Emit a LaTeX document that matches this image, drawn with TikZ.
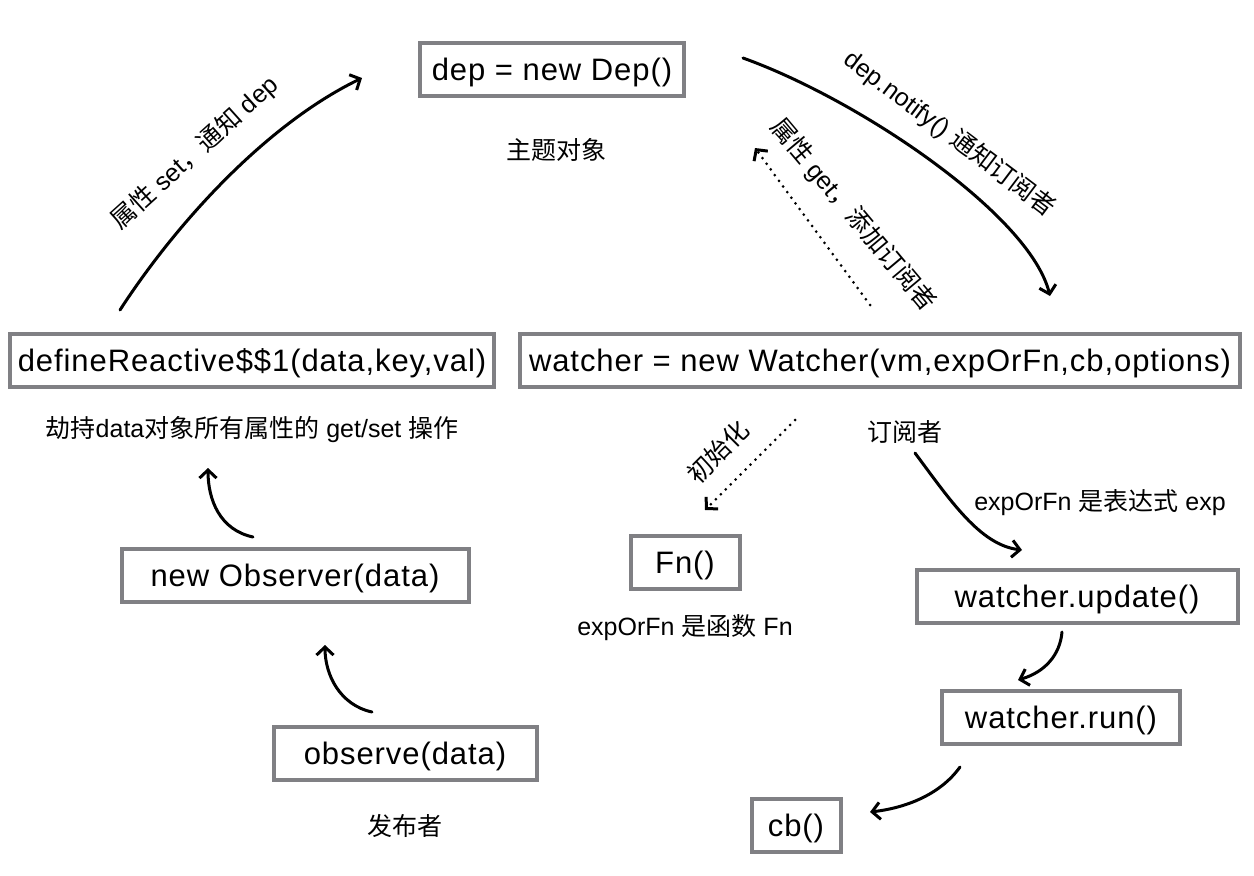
\documentclass[tikz,border=0pt]{standalone}
\usepackage{fontspec}
\setmainfont{Liberation Sans}
\newfontfamily\boxfont{Liberation Sans}[LetterSpace=3]
\newfontfamily\cjk{Noto Sans CJK SC}
\usetikzlibrary{arrows.meta}

\definecolor{boxgray}{RGB}{128,128,132}
\newcommand{\zh}[1]{{\cjk #1}}

\begin{document}
\begin{tikzpicture}[x=1pt,y=-1pt,
					>={Straight Barb[length=8pt,width=17pt]},
					line width=3pt,
					box node/.style={rectangle,draw=boxgray,line width=4pt,inner xsep=6pt,
						minimum height=53pt,text height=26pt,text depth=3.5pt,
						font=\boxfont\fontsize{31pt}{34pt}\selectfont},
					note node/.style={inner sep=0pt,font=\fontsize{25pt}{28pt}\selectfont},
					flow/.style={->,line width=3pt,line cap=round},
					dots/.style={->,line width=3pt,line cap=round,dash pattern=on 0pt off 7pt}]

  \fill[white] (0,0) rectangle (1254,876);
  \useasboundingbox (0,0) rectangle (1254,876);

  % boxes
  \node[box node,minimum width=264pt] (dep) at (552,69) {dep = new Dep()};
  \node[box node,minimum width=484pt] (define) at (252,360) {defineReactive\$\$1(data,key,val)};
  \node[box node,minimum width=720pt] (watcher) at (880,360) {watcher = new Watcher(vm,expOrFn,cb,options)};
  \node[box node,minimum width=347pt] (observer) at (295,575) {new Observer(data)};
  \node[box node,minimum width=109pt] (fn) at (685,562) {Fn()};
  \node[box node,minimum width=321pt] (update) at (1077,596) {watcher.update()};
  \node[box node,minimum width=238pt] (run) at (1061,717) {watcher.run()};
  \node[box node,minimum width=263pt] (observe) at (405,753) {observe(data)};
  \node[box node,minimum width=89pt] (cb) at (796,825) {cb()};

  % notes under the boxes
  \node[note node] (dep note) [below of=dep,node distance=81pt,xshift=4pt] {\zh{主题对象}};
  \node[note node] (define note) [below of=define,node distance=70pt] {\zh{劫持}data\zh{对象所有属性的} get/set \zh{操作}};
  \node[note node] (watcher note) [below of=watcher,node distance=72pt,xshift=25pt] {\zh{订阅者}};
  \node[note node] (fn note) [below of=fn,node distance=66pt] {expOrFn \zh{是函数} Fn};
  \node[note node] (observe note) [below of=observe,node distance=73pt] {\zh{发布者}};
  \node[note node] (exp note) at (1100,503) {expOrFn \zh{是表达式} exp};

  % labels along the arrows
  \node[note node,rotate=42] (set label) at (195,153) {\zh{属性} set\zh{，通知} dep};
  \node[note node,rotate=-37] (notify label) at (950,134) {dep.notify() \zh{通知订阅者}};
  \node[note node,rotate=-50] (get label) at (853,215) {\zh{属性} get\zh{，添加订阅者}};
  \node[note node,rotate=45] (init label) at (718,452) {\zh{初始化}};

  % free ends of the arrows
  \coordinate (set from) at (120,310);
  \coordinate (set to) at (362,78);
  \coordinate (notify from) at (743,58);
  \coordinate (notify to) at (1050,296);
  \coordinate (get from) at (870,305);
  \coordinate (get to) at (755,148);
  \coordinate (init from) at (795,420);
  \coordinate (init to) at (705,510);
  \coordinate (exp from) at (915,453);
  \coordinate (exp to) at (1022,550);
  \coordinate (update out) at (1062,632);
  \coordinate (run in) at (1018,680);
  \coordinate (run out) at (960,767);
  \coordinate (cb in) at (870,812);
  \coordinate (observe out) at (372,712);
  \coordinate (observer in) at (325,645);
  \coordinate (observer out) at (253,537);
  \coordinate (define in) at (208,468);

  \draw[flow] (set from) .. controls (175,225) and (265,125) .. (set to);
  \draw[flow] (notify from) .. controls (860,100) and (1030,215) .. (notify to);
  \draw[dots] (get from) -- (get to);
  \draw[dots] (init from) -- (init to);
  \draw[flow] (exp from) .. controls (950,500) and (980,545) .. (exp to);
  \draw[flow] (update out) .. controls (1060,655) and (1045,672) .. (run in);
  \draw[flow] (run out) .. controls (940,795) and (905,808) .. (cb in);
  \draw[flow] (observe out) .. controls (340,705) and (325,675) .. (observer in);
  \draw[flow] (observer out) .. controls (220,530) and (208,500) .. (define in);
\end{tikzpicture}
\end{document}
